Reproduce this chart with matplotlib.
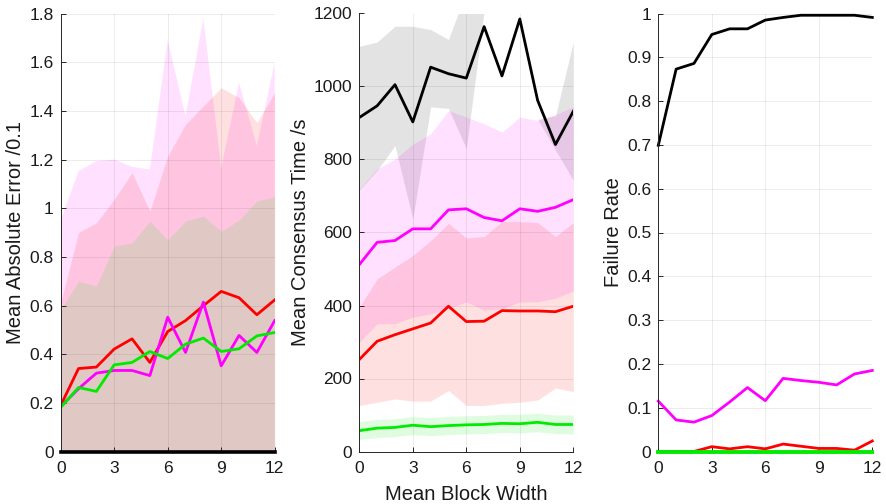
import numpy as np
import matplotlib
matplotlib.use("Agg")
import matplotlib.pyplot as plt

plt.rcParams['font.family'] = ['Liberation Sans', 'DejaVu Sans']

# Mean block width values
block_width = np.arange(0, 13)
xticks = [0, 3, 6, 9, 12]

# ---- Mean absolute error (/0.1) ----
err_red = [0.189, 0.341, 0.347, 0.421, 0.463, 0.366, 0.493, 0.538, 0.599, 0.658, 0.632, 0.562, 0.623]
err_mag = [0.185, 0.258, 0.322, 0.333, 0.333, 0.312, 0.552, 0.407, 0.614, 0.352, 0.477, 0.407, 0.538]
err_grn = [0.181, 0.263, 0.247, 0.356, 0.366, 0.411, 0.382, 0.441, 0.466, 0.411, 0.422, 0.475, 0.489]
err_blk = [0.0] * 13
# upper edge of the spread bands (lower edges fall below zero)
err_red_hi = [0.61, 0.90, 0.94, 1.036, 1.146, 0.988, 1.214, 1.344, 1.42, 1.495, 1.454, 1.351, 1.475]
err_mag_hi = [0.95, 1.152, 1.193, 1.20, 1.17, 1.159, 1.69, 1.379, 1.78, 1.165, 1.516, 1.255, 1.60]
err_grn_hi = [0.583, 0.70, 0.68, 0.844, 0.857, 0.946, 0.87, 0.947, 0.967, 0.905, 0.951, 1.029, 1.047]

# ---- Mean consensus time (s) ----
time_blk = [915, 947, 1005, 903, 1053, 1035, 1023, 1164, 1029, 1185, 962, 841, 932]
time_mag = [512, 573, 578, 610, 610, 662, 665, 641, 632, 665, 658, 669, 690]
time_red = [252, 302, 320, 336, 352, 398, 356, 357, 386, 385, 385, 383, 398]
time_grn = [57, 64, 66, 72, 68, 71, 73, 74, 77, 76, 80, 74, 74]
time_blk_lo = [716, 770, 838, 637, 944, 940, 830, 1205, 1300, 1250, 910, 826, 743]
time_blk_hi = [1110, 1122, 1165, 1165, 1156, 1129, 1260, 1350, 1300, 1250, 910, 920, 1122]
time_mag_lo = [299, 350, 350, 368, 377, 391, 410, 387, 391, 410, 410, 420, 440]
time_mag_hi = [719, 774, 801, 842, 870, 934, 916, 898, 875, 916, 907, 923, 944]
time_red_lo = [126, 135, 144, 138, 138, 167, 126, 126, 132, 135, 141, 174, 164]
time_red_hi = [395, 473, 505, 537, 578, 625, 585, 589, 630, 630, 627, 589, 627]
time_grn_lo = [33, 38, 41, 46, 43, 46, 48, 49, 52, 51, 54, 49, 48]
time_grn_hi = [82, 88, 90, 96, 93, 96, 98, 99, 102, 102, 105, 100, 100]

# ---- Failure rate ----
fail_blk = [0.699, 0.873, 0.886, 0.952, 0.965, 0.965, 0.985, 0.991, 0.996, 0.996, 0.996, 0.996, 0.991]
fail_mag = [0.115, 0.072, 0.067, 0.082, 0.113, 0.146, 0.116, 0.167, 0.162, 0.158, 0.152, 0.177, 0.185]
fail_red = [0.0, 0.0, 0.0, 0.011, 0.006, 0.011, 0.006, 0.017, 0.012, 0.007, 0.007, 0.003, 0.024]
fail_grn = [0.0] * 13

C_RED = (1.0, 0.0, 0.0)
C_MAG = (1.0, 0.0, 1.0)
C_GRN = (0.0, 0.92, 0.0)
C_BLK = (0.0, 0.0, 0.0)
BAND_ALPHA = 0.12
LW = 2.0
AX_COLOR = (0.15, 0.15, 0.15)
TXT_COLOR = (0.1, 0.1, 0.1)

fig = plt.figure(figsize=(8.86, 5.04), dpi=100)
W, H = 886.0, 504.0
bottom = (H - 451.5) / H
height = (451.5 - 13.5) / H
width = 214.0 / W
lefts = [60.7 / W, 359.3 / W, 658.3 / W]
axes = [fig.add_axes([l, bottom, width, height]) for l in lefts]


def style(ax, ylim, yticks, yticklabels, ylabel, label_x):
    ax.set_xlim(0, 12)
    ax.set_ylim(*ylim)
    ax.set_xticks(xticks)
    ax.set_xticklabels([str(t) for t in xticks])
    ax.set_yticks(yticks)
    ax.set_yticklabels(yticklabels)
    for s in ('top', 'right'):
        ax.spines[s].set_visible(False)
    for s in ('left', 'bottom'):
        ax.spines[s].set_color(AX_COLOR)
        ax.spines[s].set_linewidth(0.7)
    ax.tick_params(direction='in', length=3.5, width=0.7, colors=AX_COLOR,
                   labelsize=12.5, labelcolor=TXT_COLOR)
    ax.tick_params(axis='x', pad=7)
    ax.tick_params(axis='y', pad=5)
    ax.grid(True, color=AX_COLOR, alpha=0.1, linewidth=0.6)
    ax.set_axisbelow('line')
    ax.set_ylabel(ylabel, fontsize=14.5, color=TXT_COLOR)
    ax.yaxis.set_label_coords(label_x, 0.5)


def fmt(v):
    return ('%.1f' % v).rstrip('0').rstrip('.')


x = block_width

# Panel 1: mean absolute error
ax = axes[0]
for mean, hi, c in ((err_mag, err_mag_hi, C_MAG), (err_red, err_red_hi, C_RED),
                    (err_grn, err_grn_hi, C_GRN)):
    m = np.array(mean)
    h = np.array(hi)
    ax.fill_between(x, 2 * m - h, h, color=c, alpha=BAND_ALPHA, linewidth=0)
ax.plot(x, err_red, color=C_RED, lw=LW)
ax.plot(x, err_mag, color=C_MAG, lw=LW)
ax.plot(x, err_grn, color=C_GRN, lw=LW)
ax.plot(x, err_blk, color=C_BLK, lw=2.6, clip_on=False, zorder=5)
yt = np.round(np.arange(0, 1.81, 0.2), 1)
style(ax, (0, 1.8), yt, [fmt(v) for v in yt], 'Mean Absolute Error /0.1', -0.165)

# Panel 2: mean consensus time
ax = axes[1]
for lo, hi, c, a in ((time_blk_lo, time_blk_hi, C_BLK, 0.11),
                     (time_mag_lo, time_mag_hi, C_MAG, BAND_ALPHA),
                     (time_red_lo, time_red_hi, C_RED, BAND_ALPHA),
                     (time_grn_lo, time_grn_hi, C_GRN, BAND_ALPHA)):
    ax.fill_between(x, lo, hi, color=c, alpha=a, linewidth=0)
ax.plot(x, time_red, color=C_RED, lw=LW)
ax.plot(x, time_mag, color=C_MAG, lw=LW)
ax.plot(x, time_grn, color=C_GRN, lw=LW)
ax.plot(x, time_blk, color=C_BLK, lw=LW)
yt = list(range(0, 1201, 200))
style(ax, (0, 1200), yt, [str(v) for v in yt], 'Mean Consensus Time /s', -0.232)
ax.set_xlabel('Mean Block Width', fontsize=14.5, color=TXT_COLOR)
ax.xaxis.set_label_coords(0.5, -0.077)

# Panel 3: failure rate
ax = axes[2]
ax.plot(x, fail_blk, color=C_BLK, lw=LW, clip_on=False)
ax.plot(x, fail_mag, color=C_MAG, lw=LW, clip_on=False)
ax.plot(x, fail_red, color=C_RED, lw=LW, clip_on=False)
ax.plot(x, fail_grn, color=C_GRN, lw=2.8, clip_on=False, zorder=5)
yt = np.round(np.arange(0, 1.01, 0.1), 1)
style(ax, (0, 1), yt, [fmt(v) for v in yt], 'Failure Rate', -0.165)

fig.savefig('out.png', dpi=100)
